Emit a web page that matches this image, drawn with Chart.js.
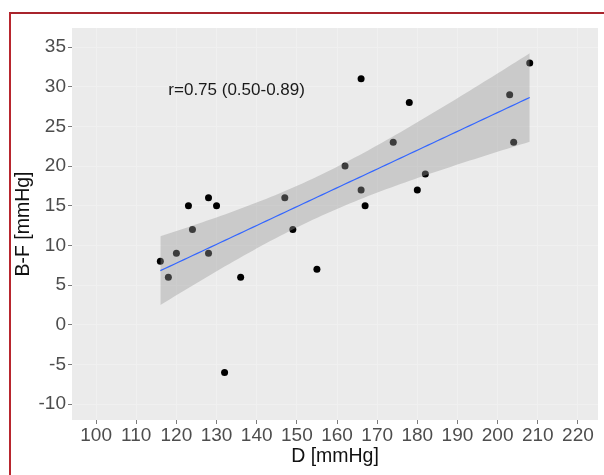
<!DOCTYPE html>
<html>
<head>
<meta charset="utf-8">
<script src="https://cdn.jsdelivr.net/npm/chart.js@4/dist/chart.umd.min.js"></script>
<style>
  html, body { margin: 0; padding: 0; background: #fff; }
  #wrap { position: relative; width: 604px; height: 475px; }
  #frame { position: absolute; left: 9px; top: 12px; width: 600px; height: 470px;
           border-top: 2px solid #a8242c; border-left: 2px solid #b8262e; }
  canvas { position: absolute; left: 0; top: 0; }
</style>
</head>
<body>
<div id="wrap">
  <canvas id="Scatter-BF-D" width="604" height="475"></canvas>
  <div id="frame"></div>
</div>
<script>
// measured pairs: D vs B-F, both in mmHg
const dValues = [116, 118, 120, 123, 124, 128, 128, 130, 132, 136, 147, 149,
                 155, 162, 166, 166, 167, 174, 178, 180, 182, 203, 204, 208];
const bfValues = [8, 6, 9, 15, 12, 16, 9, 15, -6, 6, 16, 12,
                  7, 20, 31, 17, 15, 23, 28, 17, 19, 29, 23, 33];
const xTicks = [100, 110, 120, 130, 140, 150, 160, 170, 180, 190, 200, 210, 220];
const yTicks = [-10, -5, 0, 5, 10, 15, 20, 25, 30, 35];
const corrLabel = 'r=0.75 (0.50-0.89)';

const Colors = {
    panel: '#ebebeb',
    grid: '#f0f0f0',
    tick: '#7a7a7a',
    text: '#4d4d4d',
    line: '#3366ff',
    band: 'rgba(153, 153, 153, 0.4)'
};

// least squares fit + 95% confidence band (like geom_smooth(method = "lm"))
function linearFit(xs, ys) {
    const n = xs.length;
    const mx = xs.reduce((a, b) => a + b, 0) / n;
    const my = ys.reduce((a, b) => a + b, 0) / n;
    let sxx = 0, sxy = 0;
    for (let i = 0; i < n; i++) {
        sxx += (xs[i] - mx) * (xs[i] - mx);
        sxy += (xs[i] - mx) * (ys[i] - my);
    }
    const slope = sxy / sxx;
    const icpt = my - slope * mx;
    let ssr = 0;
    for (let i = 0; i < n; i++) {
        const r = ys[i] - (icpt + slope * xs[i]);
        ssr += r * r;
    }
    const s = Math.sqrt(ssr / (n - 2));
    const t = 2.074; // t(0.975, df = 22)
    const lo = Math.min(...xs), hi = Math.max(...xs);
    const fit = [], upper = [], lower = [];
    const steps = 80;
    for (let k = 0; k <= steps; k++) {
        const x = lo + (hi - lo) * k / steps;
        const yhat = icpt + slope * x;
        const se = s * Math.sqrt(1 / n + (x - mx) * (x - mx) / sxx);
        fit.push({ x: x, y: yhat });
        upper.push({ x: x, y: yhat + t * se });
        lower.push({ x: x, y: yhat - t * se });
    }
    return { fit, upper, lower };
}

const lm = linearFit(dValues, bfValues);
const points = dValues.map((d, i) => ({ x: d, y: bfValues[i] }));

// grey panel behind the plot + the r label
const panelPlugin = {
    id: 'panel',
    beforeDraw(chart) {
        const { ctx, chartArea: a } = chart;
        ctx.save();
        ctx.fillStyle = Colors.panel;
        ctx.fillRect(a.left, a.top, a.right - a.left, a.bottom - a.top);
        ctx.restore();
    },
    afterDraw(chart) {
        const { ctx } = chart;
        const x = chart.scales.x.getPixelForValue(135);
        const y = chart.scales.y.getPixelForValue(29.5);
        ctx.save();
        ctx.font = '17px "Liberation Sans", Arial, sans-serif';
        ctx.fillStyle = '#1a1a1a';
        ctx.textAlign = 'center';
        ctx.textBaseline = 'middle';
        ctx.fillText(corrLabel, x, y);
        ctx.restore();
    }
};

const tickFont = { family: '"Liberation Sans", Arial, sans-serif', size: 19 };
const titleFont = { family: '"Liberation Sans", Arial, sans-serif', size: 19.5 };

const ctx = document.getElementById('Scatter-BF-D').getContext('2d');
const chart = new Chart(ctx, {
    type: 'scatter',
    data: {
        datasets: [{
            label: 'fit',
            data: lm.fit,
            showLine: true,
            borderColor: Colors.line,
            borderWidth: 1.2,
            pointRadius: 0,
            order: 0
        }, {
            label: 'upper',
            data: lm.upper,
            showLine: true,
            borderWidth: 0,
            borderColor: 'rgba(0,0,0,0)',
            backgroundColor: Colors.band,
            pointRadius: 0,
            fill: '+1',
            order: 1
        }, {
            label: 'lower',
            data: lm.lower,
            showLine: true,
            borderWidth: 0,
            borderColor: 'rgba(0,0,0,0)',
            pointRadius: 0,
            fill: false,
            order: 2
        }, {
            label: 'B-F',
            data: points,
            backgroundColor: '#000',
            borderColor: '#000',
            borderWidth: 0,
            pointRadius: 3.5,
            order: 3
        }]
    },
    options: {
        responsive: false,
        animation: false,
        layout: { padding: { left: 12, right: 6, top: 28, bottom: 5 } },
        plugins: {
            legend: { display: false },
            tooltip: { enabled: false }
        },
        scales: {
            x: {
                type: 'linear',
                min: 94,
                max: 225,
                afterBuildTicks(scale) { scale.ticks = xTicks.map(v => ({ value: v })); },
                afterFit(scale) { scale.height = 50; },
                border: { display: false },
                grid: { color: Colors.grid, lineWidth: 1, tickColor: Colors.tick, tickLength: 4 },
                ticks: { color: Colors.text, font: tickFont, padding: 0, maxRotation: 0, autoSkip: false },
                title: { display: true, text: 'D [mmHg]', color: '#111', font: titleFont, padding: { top: 0, bottom: 2 } }
            },
            y: {
                type: 'linear',
                min: -12,
                max: 37.4,
                afterBuildTicks(scale) { scale.ticks = yTicks.map(v => ({ value: v })); },
                afterFit(scale) { scale.width = 60; },
                border: { display: false },
                grid: { color: Colors.grid, lineWidth: 1, tickColor: Colors.tick, tickLength: 4 },
                ticks: { color: Colors.text, font: tickFont, padding: 2, autoSkip: false },
                title: { display: true, text: 'B-F [mmHg]', color: '#111', font: titleFont, padding: { top: 0, bottom: 0 } }
            }
        }
    },
    plugins: [panelPlugin]
});
</script>
</body>
</html>
